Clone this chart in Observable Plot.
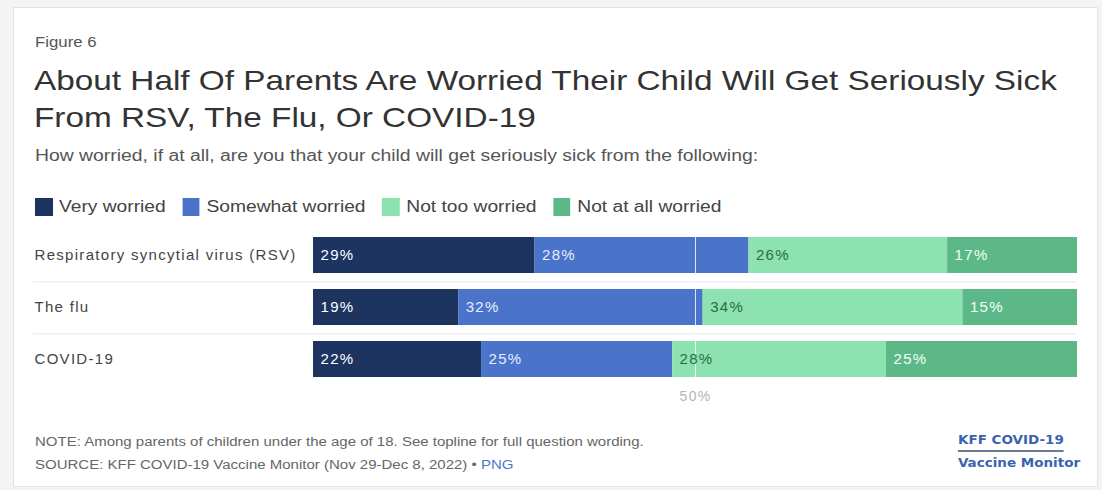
<!DOCTYPE html>
<html>
<head>
<meta charset="utf-8">
<script src="https://cdn.jsdelivr.net/npm/d3@7"></script>
<script src="https://cdn.jsdelivr.net/npm/@observablehq/plot@0.6"></script>
<style>
  html, body { margin: 0; padding: 0; width: 1102px; height: 490px; background: #f4f4f4; overflow: hidden; font-family: "Liberation Sans", Arial, sans-serif; }
  #card { position: absolute; left: 13px; top: 7px; width: 1085px; height: 480px; background: #fff; border: 1px solid #e2e2e2; box-sizing: border-box; }
  .abs { position: absolute; white-space: nowrap; transform-origin: 0 0; }
  #fig { left: 35px; top: 34px; font-size: 14px; color: #555; transform: scaleX(1.2); }
  #title { left: 34px; top: 62px; font-size: 28px; line-height: 37px; color: #333; transform: scaleX(1.19); }
  #sub { left: 35px; top: 147px; font-size: 16px; color: #555; transform: scaleX(1.21); }
  #legend { left: 35px; top: 198px; font-size: 16px; color: #444; display: flex; align-items: center; transform: scaleX(1.2); }
  #legend .item { display: flex; align-items: center; margin-right: 14px; }
  #legend .sw { width: 14.5px; height: 18px; margin-right: 5.5px; }
  #chart { left: 0px; top: 200px; }
  #note { left: 35px; top: 431px; font-size: 12.5px; color: #666; line-height: 23px; transform: scaleX(1.2); }
  #note .png { color: #4a78c8; }
  #logo { left: 958px; top: 429px; font-family: "DejaVu Sans Condensed", "DejaVu Sans", sans-serif; font-weight: bold; font-size: 12.5px; color: #3a63ad; line-height: 22px; transform: scaleX(1.2); }
  #logo .l1 { border-bottom: 2px solid #6b7a93; padding-bottom: 1px; display: inline-block; line-height: 18px; }
</style>
</head>
<body>
<div id="card"></div>
<div class="abs" id="fig">Figure 6</div>
<div class="abs" id="title">About Half Of Parents Are Worried Their Child Will Get Seriously Sick<br>From RSV, The Flu, Or COVID-19</div>
<div class="abs" id="sub">How worried, if at all, are you that your child will get seriously sick from the following:</div>
<div class="abs" id="legend"></div>
<div class="abs" id="chart"></div>
<div class="abs" id="note">NOTE: Among parents of children under the age of 18. See topline for full question wording.<br>SOURCE: KFF COVID-19 Vaccine Monitor (Nov 29-Dec 8, 2022) • <span class="png">PNG</span></div>
<div class="abs" id="logo"><span class="l1">KFF COVID-19</span><br>Vaccine Monitor</div>
<script>
const categories = ["Respiratory syncytial virus (RSV)", "The flu", "COVID-19"];
const seriesNames = ["Very worried", "Somewhat worried", "Not too worried", "Not at all worried"];
const veryWorried = [29, 19, 22];
const somewhatWorried = [28, 32, 25];
const notTooWorried = [26, 34, 28];
const notAtAllWorried = [17, 15, 25];
const colors = ["#1d3461", "#4a74c9", "#8de3b0", "#5db887"];
const labelColors = ["#ffffff", "#e6eeff", "#2b6b47", "#f2fff7"];
const tickValues = [50];

const seriesValues = [veryWorried, somewhatWorried, notTooWorried, notAtAllWorried];
const rows = [];
categories.forEach((cat, i) => {
  let start = 0;
  seriesNames.forEach((s, j) => {
    const v = seriesValues[j][i];
    rows.push({category: cat, series: s, value: v, x1: start, x2: start + v, label: v + "%", lc: labelColors[j]});
    start += v;
  });
});

// legend
const lg = document.getElementById("legend");
seriesNames.forEach((s, j) => {
  const it = document.createElement("div");
  it.className = "item";
  it.innerHTML = `<div class="sw" style="background:${colors[j]}"></div><span>${s}</span>`;
  lg.appendChild(it);
});

const chart = Plot.plot({
  width: 1102,
  height: 213,
  marginLeft: 33,
  marginRight: 25,
  marginTop: 31,
  marginBottom: 30,
  style: {fontFamily: "'Liberation Sans', Arial, sans-serif", background: "transparent", letterSpacing: "1.3px"},
  x: {domain: [0, 100], range: [313, 1077]},
  y: {domain: categories, paddingInner: 0.31, paddingOuter: 0.1},
  color: {domain: seriesNames, range: colors},
  marks: [
    Plot.ruleY(categories.slice(0, 2), {y: d => d, dy: 26.4, stroke: "#e6e6e6", strokeWidth: 1}),
    Plot.barX(rows, {x1: "x1", x2: "x2", y: "category", fill: "series"}),
    Plot.ruleX(tickValues, {stroke: "#ffffff", strokeWidth: 1, strokeOpacity: 0.8}),
    Plot.text(rows, {x: "x1", y: "category", text: "label", fill: "lc", textAnchor: "start", dx: 7, fontSize: 15}),
    Plot.axisY({tickSize: 0, textAnchor: "start", dx: 10, fontSize: 15, fill: "#444", label: null}),
    Plot.axisX(tickValues, {tickSize: 0, tickPadding: 8, tickFormat: d => d + "%", fontSize: 14, fill: "#b5b5b5", label: null})
  ]
});
document.getElementById("chart").appendChild(chart);
</script>
</body>
</html>
